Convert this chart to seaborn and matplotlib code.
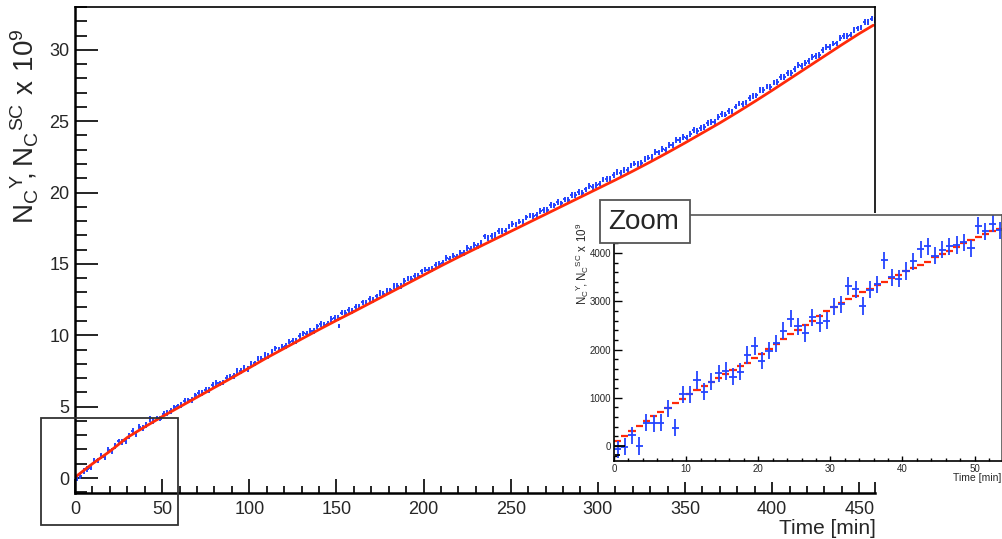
import numpy as np
import matplotlib
matplotlib.use("Agg")
import matplotlib.pyplot as plt
import seaborn as sns
from matplotlib.ticker import MultipleLocator
from matplotlib.patches import Rectangle

# ---- main plot data (time in min, counts x 10^9) ----
red_t = [0, 10, 20, 30, 40, 50, 60, 70, 80, 90, 100, 110, 120, 130, 140, 150,
         160, 170, 180, 190, 200, 210, 220, 230, 240, 250, 260, 270, 280, 290,
         300, 310, 320, 330, 340, 350, 360, 370, 380, 390, 400, 410, 420, 430,
         440, 450, 458]
red_v = [0.05, 1.00, 1.87, 2.84, 3.58, 4.30, 4.98, 5.66, 6.34, 7.02, 7.72,
         8.42, 9.08, 9.74, 10.40, 11.04, 11.66, 12.30, 12.94, 13.58, 14.22,
         14.86, 15.48, 16.08, 16.68, 17.28, 17.88, 18.48, 19.08, 19.68, 20.28,
         20.88, 21.50, 22.14, 22.80, 23.48, 24.18, 24.88, 25.62, 26.38, 27.16,
         27.96, 28.76, 29.56, 30.36, 31.14, 31.72]

# 2 min bins, centres at 1, 3, 5, ... 459
blue_t = np.arange(1, 460, 2)
blue_v = [-0.04, 0.11, 0.48, 0.63, 0.73, 1.22, 1.23, 1.53, 1.49, 1.98,
          1.88, 2.26, 2.56, 2.51, 2.58, 2.92, 3.29, 3.07, 3.60, 3.49,
          3.73, 4.11, 4.01, 4.16, 4.16, 4.51, 4.54, 4.70, 4.95, 5.02,
          5.11, 5.41, 5.44, 5.46, 5.79, 5.99, 5.96, 6.18, 6.17, 6.50,
          6.65, 6.63, 6.70, 7.01, 7.10, 7.14, 7.51, 7.48, 7.72, 7.66,
          8.02, 8.03, 8.37, 8.37, 8.63, 8.57, 8.83, 9.08, 9.01, 9.19,
          9.27, 9.56, 9.59, 9.60, 9.93, 10.13, 10.09, 10.31, 10.29, 10.62,
          10.78, 10.75, 10.82, 11.12, 11.20, 11.23, 11.59, 11.54, 11.77, 11.69,
          11.97, 11.97, 12.30, 12.29, 12.54, 12.46, 12.72, 12.97, 12.90, 13.08,
          13.14, 13.43, 13.46, 13.47, 13.80, 13.98, 13.94, 14.16, 14.14, 14.47,
          14.60, 14.57, 14.64, 14.94, 15.02, 15.05, 15.41, 15.36, 15.58, 15.51,
          15.79, 15.78, 16.10, 16.08, 16.32, 16.24, 16.49, 16.93, 16.80, 16.97,
          17.01, 17.29, 17.31, 17.31, 17.63, 17.81, 17.76, 17.97, 17.94, 18.26,
          18.39, 18.35, 18.41, 18.70, 18.77, 18.80, 19.15, 19.10, 19.32, 19.24,
          19.52, 19.51, 19.83, 19.81, 20.05, 19.97, 20.22, 20.46, 20.38, 20.55,
          20.63, 20.91, 20.93, 20.93, 21.25, 21.43, 21.39, 21.60, 21.58, 21.90,
          22.03, 22.00, 22.07, 22.37, 22.45, 22.49, 22.85, 22.81, 23.04, 22.97,
          23.32, 23.32, 23.66, 23.66, 23.91, 23.85, 24.12, 24.38, 24.32, 24.51,
          24.59, 24.89, 24.93, 24.95, 25.29, 25.49, 25.46, 25.69, 25.68, 26.02,
          26.23, 26.22, 26.31, 26.63, 26.74, 26.80, 27.19, 27.18, 27.44, 27.40,
          27.71, 27.74, 28.10, 28.12, 28.40, 28.36, 28.65, 28.93, 28.89, 29.10,
          29.20, 29.52, 29.58, 29.62, 29.98, 30.20, 30.19, 30.44, 30.45, 30.81,
          30.98, 30.98, 31.07, 31.40, 31.50, 31.57, 31.95, 31.94, 32.19, 32.11]
blue_out_t = [151.5]
blue_out_v = [10.65]

# ---- zoom data (first 54 min, 1 min bins) ----
zoom_t = np.arange(0.5, 54, 1)
zoom_blue = [-70, -15, 220, 0, 485, 470, 485, 780, 380, 1070,
             1070, 1370, 1130, 1335, 1510, 1555, 1440, 1540, 1890, 2075,
             1770, 1980, 2130, 2390, 2640, 2480, 2340, 2670, 2550, 2600,
             2890, 2940, 3320, 3250, 2905, 3240, 3355, 3850, 3500, 3470,
             3630, 3830, 4080, 4140, 3945, 4070, 4140, 4170, 4220, 4100,
             4570, 4450, 4610, 4470]
zoom_red = [110, 210, 320, 420, 525, 615, 700, 790, 890, 975,
            1070, 1155, 1240, 1335, 1410, 1495, 1570, 1650, 1730, 1820,
            1910, 2015, 2120, 2220, 2320, 2415, 2510, 2600, 2700, 2790,
            2880, 2960, 3050, 3115, 3190, 3265, 3340, 3405, 3480, 3545,
            3620, 3690, 3760, 3825, 3910, 3980, 4050, 4120, 4200, 4265,
            4325, 4395, 4465, 4505]
zoom_black_t = [0.75, 0.45]
zoom_black_v = [0, -190]

BLUE = "#2444ff"
RED = "#ff2a0a"
W, H = 1003, 539
YLAB = r'$\mathregular{N_{C}{}^{Y}\!,N_{C}{}^{SC}\ x\ 10^{9}}$'

sns.set_style("ticks")
plt.rcParams['font.family'] = ['Liberation Sans', 'DejaVu Sans']

fig = plt.figure(figsize=(10.03, 5.39), dpi=100)

# main axes
ax = fig.add_axes([75 / W, 1 - 493 / H, 800 / W, 486 / H])
ax.errorbar(blue_t, blue_v, xerr=0.8, yerr=0.2, fmt='none', ecolor=BLUE, elinewidth=1.4)
ax.errorbar(blue_out_t, blue_out_v, xerr=0.8, yerr=0.15, fmt='none', ecolor=BLUE, elinewidth=1.4)
sns.lineplot(x=red_t, y=red_v, ax=ax, color=RED, lw=2)
ax.set_xlim(0, 459)
ax.set_ylim(-1.05, 33.0)
ax.xaxis.set_major_locator(MultipleLocator(50))
ax.xaxis.set_minor_locator(MultipleLocator(10))
ax.yaxis.set_major_locator(MultipleLocator(5))
ax.yaxis.set_minor_locator(MultipleLocator(1))
ax.tick_params(which='both', direction='in', top=False, right=False, color='black')
ax.tick_params(axis='y', which='major', length=16.5, width=1.2, labelsize=13, pad=4)
ax.tick_params(axis='y', which='minor', length=8.5, width=1.2)
ax.tick_params(axis='x', which='major', length=10, width=1.2, labelsize=13, pad=6)
ax.tick_params(axis='x', which='minor', length=5, width=1.2)
for s in ax.spines.values():
    s.set_color('black')
    s.set_linewidth(1.2)
ax.spines['left'].set_linewidth(1.8)
ax.spines['bottom'].set_linewidth(1.8)
ax.set_xlabel('')
ax.set_ylabel('')

fig.text(25 / W, 1 - 126 / H, YLAB, rotation=90, ha='center', va='center', fontsize=20)
fig.text(876 / W, 1 - 528 / H, 'Time [min]', ha='right', va='center', fontsize=15)

# box marking zoomed region
fig.add_artist(Rectangle((41 / W, 1 - 525 / H), 137 / W, 107 / H, transform=fig.transFigure,
                         fill=False, ec='#333333', lw=1.3, zorder=3))

# white pad for inset
fig.add_artist(Rectangle((565 / W, 1 - 482 / H), (W - 565) / W, 269 / H, transform=fig.transFigure,
                         fc='white', ec='none', zorder=1))

axin = fig.add_axes([614 / W, 1 - 461 / H, 388 / W, 246 / H])
axin.set_zorder(2)
axin.errorbar(zoom_t, zoom_red, xerr=0.5, yerr=15, fmt='none', ecolor=RED, elinewidth=1.6)
axin.errorbar(zoom_t, zoom_blue, xerr=0.5, yerr=180, fmt='none', ecolor=BLUE, elinewidth=1.3)
axin.errorbar(zoom_black_t, zoom_black_v, xerr=[0.75, 0.35], fmt='none', ecolor='black', elinewidth=1.3)
axin.set_xlim(0, 53.8)
axin.set_ylim(-310, 4790)
axin.xaxis.set_major_locator(MultipleLocator(10))
axin.xaxis.set_minor_locator(MultipleLocator(2))
axin.yaxis.set_major_locator(MultipleLocator(1000))
axin.yaxis.set_minor_locator(MultipleLocator(200))
axin.tick_params(which='both', direction='in', top=False, right=False, color='black', width=1)
axin.tick_params(axis='y', which='major', length=5.8, labelsize=7, pad=2)
axin.tick_params(axis='y', which='minor', length=2.9)
axin.tick_params(axis='x', which='major', length=3.6, labelsize=7, pad=2.5)
axin.tick_params(axis='x', which='minor', length=2)
for s in axin.spines.values():
    s.set_color('black')
    s.set_linewidth(1.2)
axin.spines['top'].set_color('#555555')
axin.spines['right'].set_color('#555555')

fig.text(582 / W, 1 - 264 / H, YLAB, rotation=90, ha='center', va='center', fontsize=8.3, zorder=5)
fig.text(1001 / W, 1 - 478 / H, 'Time [min]', ha='right', va='center', fontsize=7.5, zorder=5)

# "Zoom" label box
fig.add_artist(Rectangle((600 / W, 1 - 243 / H), 90 / W, 43 / H, transform=fig.transFigure,
                         fc='white', ec='#555555', lw=1.3, zorder=4))
fig.text(644 / W, 1 - 222 / H, 'Zoom', ha='center', va='center', fontsize=20, zorder=5)

fig.savefig('out.png', dpi=100)
